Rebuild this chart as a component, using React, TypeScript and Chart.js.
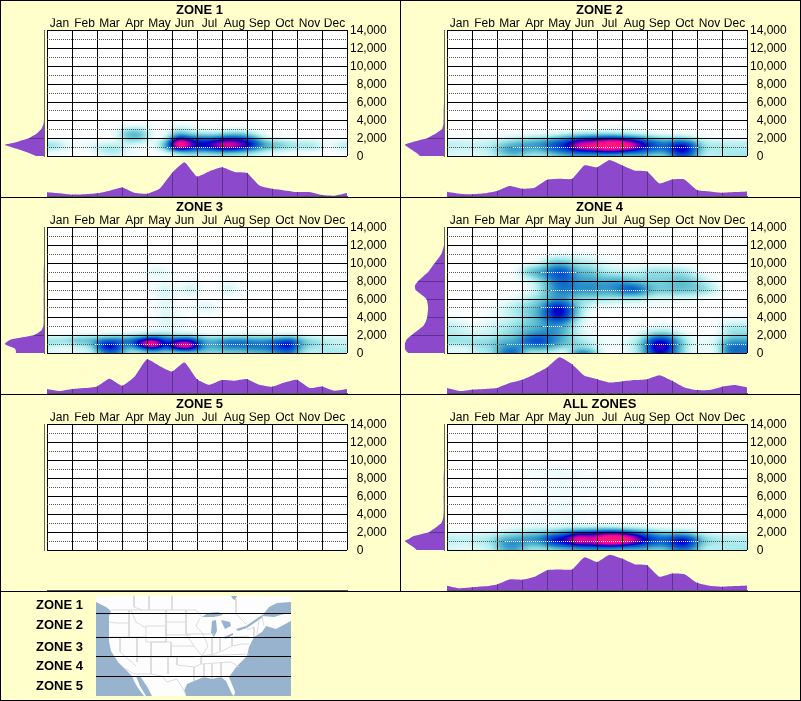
import React, { useEffect, useRef } from "react";
import { Chart, registerables } from "chart.js";

Chart.register(...registerables);
Chart.defaults.font.family = "'Liberation Sans', Arial, sans-serif";
Chart.defaults.color = "#000";

const months = ["Jan", "Feb", "Mar", "Apr", "May", "Jun", "Jul", "Aug", "Sep", "Oct", "Nov", "Dec"];
const heatMonths = [0.25, 0.75, 1.25, 1.75, 2.25, 2.75, 3.25, 3.75, 4.25, 4.75, 5.25, 5.75, 6.25, 6.75, 7.25, 7.75, 8.25, 8.75, 9.25, 9.75, 10.25, 10.75, 11.25, 11.75];
const heatElev = [0, 500, 1000, 1500, 2000, 2500, 3000, 3500, 4000, 5000, 6000, 7000, 8000, 9000, 10000, 11000, 12000];
const profileMonths = [0, 0.5, 1, 1.5, 2, 2.5, 3, 3.5, 4, 4.5, 5, 5.5, 6, 6.5, 7, 7.5, 8, 8.5, 9, 9.5, 10, 10.5, 11, 11.5, 12];
const profileElev = [0, 250, 500, 750, 1000, 1250, 1500, 2000, 2500, 3000, 3500, 4000, 5000, 6000, 7000, 7500, 8000, 9000, 10000, 11000, 12000, 14000];
const elevLabels = [0, 2000, 4000, 6000, 8000, 10000, 12000, 14000];

// Heat grids: rows follow heatElev, columns follow heatMonths
const zone1Heat = [
  [2, 1, 0, 0, 4, 8, 3, 1, 0, 0, 6, 12, 8, 10, 12, 10, 8, 4, 3, 1, 1, 0, 0, 0],
  [6, 3, 1, 3, 13, 16, 6, 3, 1, 10, 34, 38, 34, 40, 42, 36, 25, 12, 8, 5, 4, 4, 0, 4],
  [18, 8, 3, 7, 14, 16, 6, 4, 3, 32, 100, 72, 64, 76, 86, 76, 58, 34, 26, 18, 16, 15, 2, 12],
  [16, 5, 2, 4, 6, 7, 13, 11, 4, 30, 100, 74, 64, 74, 84, 74, 60, 30, 24, 14, 14, 11, 2, 10],
  [0, 0, 0, 0, 1, 3, 26, 26, 2, 10, 66, 52, 46, 48, 56, 54, 40, 9, 4, 1, 1, 1, 0, 0],
  [0, 0, 0, 0, 0, 4, 32, 30, 3, 3, 32, 20, 16, 16, 24, 24, 14, 2, 1, 0, 0, 0, 0, 0],
  [0, 0, 0, 0, 0, 2, 14, 14, 2, 1, 14, 9, 3, 3, 5, 6, 2, 1, 0, 0, 0, 0, 0, 0],
  [0, 0, 0, 0, 0, 0, 2, 3, 1, 0, 3, 2, 0, 0, 0, 0, 0, 0, 0, 0, 0, 0, 0, 0],
];
const zone2Heat = [
  [6, 5, 6, 8, 18, 25, 15, 14, 20, 28, 30, 30, 28, 24, 24, 28, 20, 22, 50, 45, 12, 12, 15, 16],
  [9, 8, 10, 14, 32, 40, 28, 28, 42, 50, 62, 62, 70, 72, 60, 54, 42, 42, 68, 58, 18, 15, 16, 16],
  [11, 10, 12, 14, 30, 38, 38, 40, 55, 64, 86, 92, 100, 100, 94, 72, 56, 50, 70, 62, 20, 16, 14, 12],
  [12, 10, 10, 12, 20, 28, 34, 38, 50, 60, 80, 82, 92, 96, 86, 68, 52, 42, 56, 46, 16, 14, 12, 14],
  [3, 3, 4, 5, 8, 12, 16, 20, 28, 38, 50, 55, 60, 60, 52, 42, 28, 20, 24, 16, 4, 2, 2, 2],
  [0, 0, 0, 0, 1, 2, 3, 4, 5, 10, 14, 16, 18, 16, 12, 8, 5, 3, 4, 2, 0, 0, 0, 0],
  [0, 0, 0, 0, 0, 0, 0, 1, 1, 1, 3, 3, 3, 4, 6, 4, 1, 0, 0, 0, 0, 0, 0, 0],
  [0, 0, 0, 0, 0, 0, 0, 0, 0, 0, 0, 2, 0, 0, 0, 3, 0, 0, 0, 0, 0, 0, 0, 0],
  [0, 0, 0, 0, 0, 0, 0, 0, 0, 0, 0, 2, 0, 0, 0, 3, 0, 0, 0, 0, 0, 0, 0, 0],
];
const zone3Heat = [
  [8, 5, 8, 10, 35, 45, 15, 14, 18, 15, 10, 14, 20, 20, 22, 22, 25, 28, 38, 45, 14, 12, 16, 16],
  [6, 4, 10, 14, 62, 62, 28, 45, 72, 45, 76, 76, 38, 32, 40, 40, 45, 45, 55, 62, 24, 16, 15, 14],
  [16, 12, 20, 25, 62, 62, 42, 80, 100, 60, 88, 88, 40, 38, 50, 50, 48, 48, 58, 68, 28, 20, 12, 8],
  [18, 20, 30, 30, 44, 46, 42, 60, 76, 50, 58, 58, 34, 30, 40, 40, 36, 36, 44, 50, 26, 18, 14, 12],
  [2, 3, 6, 8, 10, 12, 14, 20, 26, 26, 16, 18, 8, 6, 8, 9, 10, 9, 8, 12, 5, 2, 1, 1],
  [0, 0, 0, 0, 0, 1, 1, 3, 5, 5, 5, 2, 1, 1, 1, 1, 2, 2, 1, 1, 0, 0, 0, 0],
  [0, 0, 0, 0, 0, 0, 0, 0, 1, 6, 4, 1, 0, 0, 0, 0, 0, 0, 0, 0, 0, 0, 0, 0],
  [0, 0, 0, 0, 0, 0, 0, 0, 1, 8, 4, 0, 0, 0, 0, 0, 0, 0, 0, 0, 0, 0, 0, 0],
  [0, 0, 0, 0, 0, 0, 0, 0, 1, 8, 4, 0, 0, 0, 0, 0, 0, 0, 0, 0, 0, 0, 0, 0],
  [0, 0, 0, 0, 0, 0, 0, 0, 0, 8, 1, 2, 8, 4, 0, 0, 0, 0, 0, 0, 0, 0, 0, 0],
  [0, 0, 0, 0, 0, 0, 0, 0, 1, 7, 1, 1, 1, 0, 0, 0, 0, 0, 0, 0, 0, 0, 0, 0],
  [0, 0, 0, 0, 0, 0, 0, 0, 3, 10, 2, 12, 1, 0, 10, 2, 0, 0, 0, 0, 0, 0, 0, 0],
  [0, 0, 0, 0, 0, 0, 0, 0, 1, 4, 1, 3, 0, 0, 4, 0, 0, 0, 0, 0, 0, 0, 0, 0],
  [0, 0, 0, 0, 0, 0, 0, 0, 8, 5, 0, 0, 0, 0, 0, 0, 0, 0, 0, 0, 0, 0, 0, 0],
];
const zone4Heat = [
  [8, 6, 14, 15, 46, 50, 14, 14, 8, 4, 50, 40, 4, 2, 6, 22, 60, 62, 34, 6, 6, 5, 45, 45],
  [5, 6, 16, 20, 40, 45, 32, 34, 26, 14, 24, 18, 3, 1, 6, 24, 66, 70, 36, 6, 6, 6, 48, 50],
  [15, 16, 20, 22, 35, 38, 48, 55, 40, 28, 22, 14, 4, 3, 8, 24, 68, 70, 38, 8, 6, 8, 42, 44],
  [20, 18, 18, 20, 30, 34, 52, 56, 44, 30, 18, 10, 5, 4, 7, 20, 56, 58, 32, 8, 5, 8, 32, 34],
  [14, 12, 10, 12, 20, 26, 40, 46, 42, 30, 12, 5, 2, 2, 3, 10, 30, 34, 16, 4, 2, 3, 18, 22],
  [13, 8, 7, 10, 16, 22, 32, 38, 42, 30, 10, 3, 1, 1, 1, 4, 12, 14, 5, 1, 1, 1, 16, 18],
  [12, 6, 5, 8, 14, 20, 28, 34, 42, 32, 10, 2, 0, 0, 0, 1, 4, 6, 2, 0, 0, 1, 12, 14],
  [7, 3, 2, 5, 10, 16, 24, 34, 50, 44, 14, 2, 0, 0, 0, 0, 1, 1, 0, 0, 0, 0, 6, 7],
  [3, 1, 1, 4, 8, 14, 24, 38, 62, 60, 20, 2, 0, 0, 0, 0, 0, 0, 0, 0, 0, 0, 2, 3],
  [0, 0, 0, 2, 8, 16, 24, 36, 66, 62, 24, 6, 2, 2, 2, 2, 0, 0, 0, 0, 0, 0, 0, 0],
  [0, 0, 0, 0, 2, 6, 14, 24, 38, 38, 22, 20, 16, 15, 14, 14, 8, 8, 6, 6, 0, 0, 0, 0],
  [0, 0, 0, 0, 0, 0, 4, 18, 40, 48, 40, 42, 38, 42, 54, 48, 28, 26, 28, 26, 22, 10, 0, 0],
  [0, 0, 0, 0, 0, 2, 6, 22, 44, 50, 38, 38, 34, 36, 32, 26, 24, 24, 30, 26, 14, 4, 0, 0],
  [0, 0, 0, 0, 0, 2, 26, 36, 52, 54, 30, 28, 16, 12, 12, 12, 20, 18, 18, 12, 2, 0, 0, 0],
  [0, 0, 0, 0, 0, 0, 4, 10, 30, 28, 16, 14, 6, 4, 2, 2, 2, 2, 1, 0, 0, 0, 0, 0],
  [0, 0, 0, 0, 0, 0, 0, 0, 3, 4, 3, 2, 1, 0, 0, 0, 0, 0, 0, 0, 0, 0, 0, 0],
];
const zone5Heat: number[][] = [];
const allHeat = [
  [8, 5, 8, 10, 30, 35, 16, 14, 18, 24, 28, 30, 28, 24, 24, 28, 20, 22, 40, 38, 14, 12, 15, 16],
  [8, 6, 10, 14, 38, 42, 28, 30, 48, 54, 64, 66, 72, 74, 62, 56, 44, 44, 64, 56, 20, 15, 16, 16],
  [12, 10, 14, 18, 36, 40, 40, 44, 66, 70, 92, 84, 98, 100, 94, 72, 58, 52, 68, 62, 26, 18, 14, 12],
  [12, 10, 12, 14, 26, 30, 36, 40, 58, 64, 86, 78, 92, 96, 86, 68, 52, 44, 54, 46, 20, 15, 12, 14],
  [3, 3, 4, 6, 10, 14, 18, 22, 30, 40, 52, 55, 60, 60, 52, 42, 28, 20, 22, 16, 5, 2, 2, 2],
  [0, 0, 1, 1, 3, 5, 7, 8, 7, 12, 14, 14, 16, 14, 12, 8, 5, 3, 3, 2, 1, 0, 0, 0],
  [0, 0, 0, 0, 1, 2, 3, 4, 3, 4, 3, 1, 1, 1, 2, 2, 1, 1, 1, 0, 0, 0, 0, 0],
  [0, 0, 0, 0, 0, 1, 2, 3, 2, 4, 3, 1, 1, 0, 1, 1, 0, 0, 0, 0, 0, 0, 0, 0],
  [0, 0, 0, 0, 0, 1, 2, 3, 2, 4, 2, 1, 0, 0, 0, 0, 0, 0, 0, 0, 0, 0, 0, 0],
  [0, 0, 0, 0, 0, 1, 2, 2, 3, 4, 3, 1, 2, 1, 0, 0, 0, 0, 0, 0, 0, 0, 0, 0],
  [0, 0, 0, 0, 0, 0, 0, 1, 3, 2, 2, 1, 0, 0, 0, 0, 0, 0, 0, 0, 0, 0, 0, 0],
  [0, 0, 0, 0, 0, 0, 0, 2, 3, 4, 3, 3, 2, 2, 3, 2, 1, 1, 0, 0, 0, 0, 0, 0],
  [0, 0, 0, 0, 0, 0, 1, 2, 3, 4, 3, 2, 2, 1, 1, 1, 0, 0, 0, 0, 0, 0, 0, 0],
  [0, 0, 0, 0, 0, 0, 2, 3, 3, 3, 2, 1, 0, 0, 0, 0, 0, 0, 0, 0, 0, 0, 0, 0],
];

// Elevation profiles (left of each plot), following profileElev
const zone1Left = [25, 40, 58, 78, 100, 119, 88, 45, 22, 8, 2, 0, 0, 0, 0, 0, 0, 0, 0, 0, 0, 0];
const zone2Left = [73, 80, 90, 100, 110, 119, 100, 50, 25, 6, 2, 1, 1, 0, 0, 0, 0, 0, 0, 0, 0, 0];
const zone3Left = [85, 85, 88, 105, 119, 112, 100, 30, 8, 2, 1, 1, 1, 1, 1, 1, 1, 1, 0, 0, 0, 0];
const zone4Left = [108, 115, 119, 119, 119, 116, 113, 98, 80, 63, 55, 51, 48, 53, 86, 88, 78, 48, 28, 8, 0, 0];
const zone5Left: number[] = [];
const allLeft = [83, 90, 100, 110, 119, 105, 95, 45, 25, 8, 3, 1, 1, 1, 1, 1, 1, 0, 0, 0, 0, 0];

// Seasonal profiles (below each plot), following profileMonths
const zone1Bottom = [11, 8, 4, 5, 8, 16, 26, 10, 7, 22, 70, 102, 59, 75, 87, 73, 70, 32, 22, 17, 12, 12, 3, 1, 9];
const zone2Bottom = [13, 7, 5, 8, 15, 30, 22, 25, 49, 52, 52, 93, 87, 109, 93, 77, 74, 38, 50, 50, 18, 14, 10, 12, 14];
const zone3Bottom = [12, 6, 12, 15, 20, 43, 22, 49, 102, 82, 65, 92, 42, 25, 39, 37, 42, 25, 19, 32, 40, 15, 20, 7, 12];
const zone4Bottom = [15, 6, 10, 12, 15, 30, 40, 57, 77, 108, 87, 52, 42, 32, 35, 39, 42, 54, 37, 17, 9, 9, 19, 24, 17];
const zone5Bottom: number[] = [];
const allBottom = [13, 5, 8, 11, 17, 32, 31, 40, 60, 62, 62, 99, 85, 107, 95, 78, 75, 40, 50, 48, 22, 13, 10, 12, 14];

const zoneTitles = ["ZONE 1", "ZONE 2", "ZONE 3", "ZONE 4", "ZONE 5", "ALL ZONES"];
const zoneHeats = [zone1Heat, zone2Heat, zone3Heat, zone4Heat, zone5Heat, allHeat];
const zoneLefts = [zone1Left, zone2Left, zone3Left, zone4Left, zone5Left, allLeft];
const zoneBottoms = [zone1Bottom, zone2Bottom, zone3Bottom, zone4Bottom, zone5Bottom, allBottom];
const legendNames = ["ZONE 1", "ZONE 2", "ZONE 3", "ZONE 4", "ZONE 5"];

// Reference map, in map units (0-195 across, 0-100 down)
const pacific = [[0, 6], [10, 11], [15, 15], [13, 20], [13, 30], [13, 45], [15, 55], [22, 66], [28, 72], [36, 80], [38, 85], [42, 92], [48, 100], [0, 100]];
const gulfCalifornia = [[40, 80], [44, 80], [52, 92], [56, 100], [50, 100], [44, 90]];
const atlanticGulf = [[90, 100], [88, 95], [91, 88], [98, 85], [108, 81], [116, 83], [125, 81], [130, 85], [136, 98], [138, 100], [139, 96], [133, 81], [141, 70], [151, 60], [153, 51], [158, 41], [166, 36], [170, 30], [180, 33], [193, 26], [195, 25], [195, 100]];
const stLawrence = [[166, 20], [173, 11], [181, 7], [195, 6], [195, 18], [188, 18], [178, 21]];
const superior = [[106, 21], [112, 17], [122, 16], [127, 19], [118, 21]];
const michigan = [[116, 25], [120, 24], [121, 35], [118, 41], [115, 37]];
const huron = [[125, 24], [134, 26], [135, 30], [129, 33], [127, 29]];
const erie = [[128, 41], [137, 37], [137, 39], [129, 43]];
const ontario = [[140, 33], [150, 30], [151, 32], [142, 35]];
const riverMouth = [[150, 30], [166, 19], [167, 21], [151, 32]];
const hudson = [[135, 0], [141, 0], [139, 4], [137, 3]];
const borderLines = [
  [[38, 0], [38, 11], [46, 14]], [[53, 0], [53, 14]], [[76, 0], [76, 14]], [[15, 14], [100, 14], [106, 21]],
  [[13, 26], [20, 27], [33, 27]], [[33, 14], [33, 41]], [[35, 14], [40, 26], [48, 31], [50, 31]],
  [[50, 30], [70, 30], [70, 46], [50, 46], [50, 30]], [[14, 41], [41, 41], [50, 41]], [[24, 41], [24, 56], [40, 70]],
  [[41, 41], [41, 66]], [[55, 46], [55, 78]], [[55, 46], [75, 46], [75, 61]], [[75, 50], [98, 50]], [[70, 39], [95, 39]],
  [[70, 26], [90, 26]], [[70, 14], [70, 39]], [[90, 14], [90, 38], [98, 50], [106, 60], [105, 68]], [[41, 61], [98, 61]],
  [[72, 61], [72, 78]], [[81, 61], [81, 69], [98, 71], [105, 68]], [[98, 71], [98, 85]],
  [[28, 72], [38, 78], [55, 78], [66, 80], [71, 86], [81, 83], [90, 98]],
  [[90, 38], [107, 38], [118, 38]], [[104, 22], [100, 30], [107, 38], [112, 50], [106, 60]],
  [[116, 41], [116, 60]], [[124, 41], [124, 55]], [[106, 60], [118, 58], [126, 55], [136, 50]],
  [[105, 68], [135, 66]], [[108, 68], [108, 82]], [[116, 68], [116, 83]], [[125, 66], [125, 80]], [[121, 81], [133, 80]],
  [[135, 66], [143, 71]], [[106, 60], [153, 58]], [[136, 50], [146, 48], [153, 48]], [[136, 41], [153, 40]], [[136, 41], [136, 50]],
  [[151, 34], [158, 31], [158, 41]], [[163, 23], [161, 38]], [[166, 20], [168, 30]], [[140, 3], [140, 18], [150, 28]],
];
const zoneDividers = [17.5, 41.5, 60.5, 80.5];

const PURPLE = "#8D49CB";
const DARK_PURPLE = "#5C338C";
const colorStops: [number, number, number, number][] = [
  [0, 255, 255, 255], [5, 232, 250, 250], [15, 172, 236, 238], [30, 92, 190, 208], [45, 24, 124, 200],
  [58, 0, 62, 208], [66, 0, 0, 200], [74, 90, 0, 185], [83, 215, 0, 160], [92, 255, 20, 130], [100, 255, 20, 130],
];

function colorAt(v: number) {
  for (let i = 1; i < colorStops.length; i++) {
    if (v <= colorStops[i][0]) {
      const a = colorStops[i - 1];
      const b = colorStops[i];
      const t = (v - a[0]) / (b[0] - a[0]);
      return [a[1] + (b[1] - a[1]) * t, a[2] + (b[2] - a[2]) * t, a[3] + (b[3] - a[3]) * t];
    }
  }
  return colorStops[colorStops.length - 1].slice(1);
}

function catmull(p0: number, p1: number, p2: number, p3: number, t: number) {
  return 0.5 * (2 * p1 + (p2 - p0) * t + (2 * p0 - 5 * p1 + 4 * p2 - p3) * t * t + (3 * p1 - p0 - 3 * p2 + p3) * t * t * t);
}

function nodeParam(p: number, nodes: number[]) {
  const n = nodes.length;
  if (p <= nodes[0]) return 0;
  if (p >= nodes[n - 1]) return n - 1;
  for (let i = 1; i < n; i++) {
    if (p <= nodes[i]) return i - 1 + (p - nodes[i - 1]) / (nodes[i] - nodes[i - 1]);
  }
  return n - 1;
}

function heatValue(grid: number[][], row: number, col: number) {
  const r = grid[row];
  if (!r) return 0;
  return r[Math.max(0, Math.min(heatMonths.length - 1, col))];
}

function sampleHeat(grid: number[][], w: number, u: number) {
  const r1 = Math.min(Math.floor(w), heatElev.length - 2);
  const c1 = Math.min(Math.floor(u), heatMonths.length - 2);
  const ty = w - r1;
  const tx = u - c1;
  const rowVals = [-1, 0, 1, 2].map((dr) => {
    const row = Math.max(0, r1 + dr);
    return catmull(heatValue(grid, row, c1 - 1), heatValue(grid, row, c1), heatValue(grid, row, c1 + 1), heatValue(grid, row, c1 + 2), tx);
  });
  return Math.max(0, Math.min(100, catmull(rowVals[0], rowVals[1], rowVals[2], rowVals[3], ty)));
}

function blurField(f: Float32Array, w: number, h: number, rx: number, ry: number) {
  const pass = (src: Float32Array, horizontal: boolean, r: number) => {
    const out = new Float32Array(src.length);
    for (let y = 0; y < h; y++) {
      for (let x = 0; x < w; x++) {
        let s = 0;
        for (let d = -r; d <= r; d++) {
          const xx = horizontal ? Math.max(0, Math.min(w - 1, x + d)) : x;
          const yy = horizontal ? y : Math.max(0, Math.min(h - 1, y + d));
          s += src[yy * w + xx];
        }
        out[y * w + x] = s / (2 * r + 1);
      }
    }
    return out;
  };
  let r = f;
  for (let i = 0; i < 2; i++) {
    r = pass(r, true, rx);
    r = pass(r, false, ry);
  }
  return r;
}

function heatPlugin(grid: number[][]) {
  let field: Float32Array = new Float32Array(0);
  let fw = 0;
  return {
    id: "heatField",
    beforeDraw(chart: any) {
      const { ctx, chartArea: a, scales } = chart;
      if (chart.titleBlock) {
        chart.titleBlock.left = 0;
        chart.titleBlock.right = 399;
      }
      const w = Math.round(a.right - a.left);
      const h = Math.round(a.bottom - a.top);
      fw = w;
      const colPx = heatMonths.map((m) => scales.x.getPixelForValue(m));
      const rowPx = heatElev.map((e) => -scales.y.getPixelForValue(e));
      const raw = new Float32Array(w * h);
      for (let yy = 0; yy < h; yy++) {
        const wp = nodeParam(-(a.top + yy + 0.5), rowPx);
        for (let xx = 0; xx < w; xx++) raw[yy * w + xx] = sampleHeat(grid, wp, nodeParam(a.left + xx + 0.5, colPx));
      }
      field = blurField(raw, w, h, 5, 2);
      const off = document.createElement("canvas");
      off.width = w;
      off.height = h;
      const oc = off.getContext("2d")!;
      const img = oc.createImageData(w, h);
      for (let k = 0; k < w * h; k++) {
        const c = colorAt(field[k]);
        img.data[k * 4] = c[0];
        img.data[k * 4 + 1] = c[1];
        img.data[k * 4 + 2] = c[2];
        img.data[k * 4 + 3] = 255;
      }
      oc.putImageData(img, 0, 0);
      ctx.drawImage(off, a.left, a.top);
    },
    afterDraw(chart: any) {
      const { ctx, chartArea: a, scales } = chart;
      ctx.save();
      ctx.fillStyle = "#fff";
      for (let e = 1000; e < 14000; e += 2000) {
        const py = Math.round(scales.y.getPixelForValue(e) - 0.5);
        const row = py - Math.round(a.top);
        for (let xx = 0; xx < fw; xx += 2) {
          if (field[row * fw + xx] > 36) ctx.fillRect(Math.round(a.left) + xx, py, 1, 1);
        }
      }
      ctx.restore();
    },
  };
}

function dropLinePlugin(kind: "left" | "bottom", values: number[]) {
  return {
    id: "dropLines",
    afterDatasetsDraw(chart: any) {
      if (!values.length) return;
      const { ctx, scales } = chart;
      ctx.save();
      ctx.strokeStyle = DARK_PURPLE;
      ctx.lineWidth = 1;
      ctx.beginPath();
      if (kind === "bottom") {
        months.forEach((_, i) => {
          if (i === 0) return;
          const k = profileMonths.indexOf(i);
          const x = Math.round(scales.x.getPixelForValue(i) - 0.5) + 0.5;
          ctx.moveTo(x, scales.y.getPixelForValue(values[k]));
          ctx.lineTo(x, scales.y.getPixelForValue(0));
        });
      } else {
        elevLabels.forEach((e) => {
          if (e === 0) return;
          const k = profileElev.indexOf(e);
          if (k < 0 || values[k] <= 0) return;
          const y = Math.round(scales.y.getPixelForValue(e) - 0.5) + 0.5;
          ctx.moveTo(scales.x.getPixelForValue(values[k]), y);
          ctx.lineTo(scales.x.getPixelForValue(0), y);
        });
      }
      ctx.stroke();
      ctx.restore();
    },
  };
}

const polygonPlugin = {
  id: "polygons",
  beforeDatasetsDraw(chart: any) {
    const { ctx, scales } = chart;
    chart.data.datasets.forEach((ds: any) => {
      if (!ds.polygon) return;
      ctx.beginPath();
      ds.data.forEach((p: any, i: number) => {
        const x = scales.x.getPixelForValue(p.x);
        const y = scales.y.getPixelForValue(p.y);
        if (i === 0) ctx.moveTo(x, y);
        else ctx.lineTo(x, y);
      });
      ctx.closePath();
      ctx.fillStyle = ds.backgroundColor;
      ctx.fill();
    });
  },
};

function mainConfig(i: number) {
  const grid = zoneHeats[i];
  const nodes: any[] = [];
  heatElev.forEach((e, r) => heatMonths.forEach((m, c) => nodes.push({ x: m, y: e, v: grid[r] ? grid[r][c] : 0 })));
  return {
    type: "scatter",
    data: { datasets: [{ label: zoneTitles[i], data: nodes, pointRadius: 0, xAxisID: "x", yAxisID: "y" }] },
    plugins: [heatPlugin(grid)],
    options: {
      animation: false,
      responsive: false,
      devicePixelRatio: 1,
      layout: { padding: { left: 47, right: 0, top: 0, bottom: 14 } },
      plugins: {
        legend: { display: false },
        tooltip: { enabled: false },
        title: { display: true, text: zoneTitles[i], color: "#000", font: { size: 13, weight: "bold" }, padding: { top: 3, bottom: 0 } },
      },
      scales: {
        x: {
          type: "linear", min: 0, max: 12, position: "top",
          ticks: { display: false, stepSize: 1 },
          grid: { color: "#000", lineWidth: 1, drawTicks: false },
          border: { display: false },
        },
        months: {
          type: "category", axis: "x", labels: months, position: "top", offset: true,
          ticks: { autoSkip: false, maxRotation: 0, minRotation: 0, padding: -1, font: { size: 12 }, color: "#000" },
          grid: { display: false, drawTicks: false },
          border: { display: false },
          afterFit(s: any) { s.height = 11.4; },
        },
        y: {
          type: "linear", min: 0, max: 14000, position: "right",
          afterFit(s: any) { s.width = 53; },
          ticks: {
            stepSize: 1000, autoSkip: false, padding: 3, font: { size: 12 }, color: "#000", labelOffset: 1,
            callback: (v: number) => {
              if (v % 2000 !== 0) return "";
              const t = v.toLocaleString("en-US");
              return v < 10000 ? "  " + t : t;
            },
          },
          grid: {
            drawTicks: false, lineWidth: 1,
            color: (c: any) => (c.tick && c.tick.value % 2000 !== 0 ? "#555" : "#000"),
          },
          border: {
            display: false,
            dash: (c: any) => (c.tick && c.tick.value % 2000 !== 0 ? [1, 1] : []),
          },
        },
      },
    },
  };
}

function leftConfig(i: number) {
  const vals = zoneLefts[i];
  return {
    type: "line",
    data: {
      datasets: [{
        label: zoneTitles[i] + " elevation",
        data: vals.map((v, k) => ({ x: v, y: profileElev[k] })),
        backgroundColor: PURPLE, borderWidth: 0, pointRadius: 0, fill: "origin", tension: 0.15,
      }],
    },
    plugins: [dropLinePlugin("left", vals)],
    options: {
      indexAxis: "y",
      animation: false,
      responsive: false,
      devicePixelRatio: 1,
      layout: { padding: { left: 4.5, right: 2, top: 30, bottom: 4 } },
      plugins: { legend: { display: false }, tooltip: { enabled: false }, title: { display: false } },
      scales: {
        x: { type: "linear", min: 0, max: 119.5, reverse: true, display: false },
        y: {
          type: "linear", min: 0, max: 14000, position: "right",
          ticks: { display: false },
          grid: { display: false, drawTicks: false },
          border: { display: true, color: "#666", width: 1 },
        },
      },
    },
  };
}

function bottomConfig(i: number) {
  const vals = zoneBottoms[i];
  return {
    type: "line",
    data: {
      datasets: [{
        label: zoneTitles[i] + " season",
        data: vals.map((v, k) => ({ x: profileMonths[k], y: v })),
        backgroundColor: PURPLE, borderWidth: 0, pointRadius: 0, fill: "origin", tension: 0.15,
      }],
    },
    plugins: [dropLinePlugin("bottom", vals)],
    options: {
      animation: false,
      responsive: false,
      devicePixelRatio: 1,
      layout: { padding: { left: 47, right: 3, top: 2, bottom: 2 } },
      plugins: { legend: { display: false }, tooltip: { enabled: false }, title: { display: false } },
      scales: {
        x: {
          type: "linear", min: 0, max: 12, position: "bottom",
          ticks: { display: false },
          grid: { display: false, drawTicks: false },
          border: { display: true, color: "#555", width: 1 },
        },
        y: { type: "linear", min: 0, max: 109, display: false },
      },
    },
  };
}

function mapConfig() {
  const pts = (a: number[][]) => a.map((p) => ({ x: p[0], y: p[1] }));
  const water = [pacific, gulfCalifornia, atlanticGulf, stLawrence, superior, michigan, huron, erie, ontario, riverMouth, hudson];
  const datasets: any[] = [];
  zoneDividers.forEach((v) => datasets.push({
    data: [{ x: 0, y: v }, { x: 195, y: v }], borderColor: "#000", borderWidth: 1, pointRadius: 0,
  }));
  borderLines.forEach((l) => datasets.push({
    data: pts(l), borderColor: "#D8D8D8", borderWidth: 0.9, pointRadius: 0,
  }));
  water.forEach((w) => datasets.push({
    data: pts(w), polygon: true, backgroundColor: "#98B3CE", borderWidth: 0, pointRadius: 0,
  }));
  return {
    type: "line",
    data: { datasets },
    plugins: [polygonPlugin],
    options: {
      animation: false,
      responsive: false,
      devicePixelRatio: 1,
      plugins: { legend: { display: false }, tooltip: { enabled: false } },
      scales: {
        x: { type: "linear", min: 0, max: 195, display: false },
        y: { type: "linear", min: 0, max: 100, reverse: true, display: false },
      },
    },
  };
}

function ChartCanvas({ config, left, top, width, height, background }: any) {
  const ref = useRef<HTMLCanvasElement>(null);
  useEffect(() => {
    const chart = new Chart(ref.current!, config());
    return () => chart.destroy();
  }, []);
  return (
    <canvas
      ref={ref}
      width={width}
      height={height}
      style={{ position: "absolute", left, top, width, height, background }}
    />
  );
}

const rule = (left: number, top: number, width: number, height: number) => (
  <div key={`${left}-${top}-${width}`} style={{ position: "absolute", left, top, width, height, background: "#000" }} />
);

export default function App() {
  const legendY = [605, 625, 647, 666, 686];
  return (
    <div style={{ position: "fixed", left: 0, top: 0, width: 801, height: 701, background: "#FFFFCC", overflow: "hidden", fontFamily: "'Liberation Sans', Arial, sans-serif" }}>
      {zoneTitles.map((_, i) => {
        const ox = i % 2 === 0 ? 0 : 400;
        const oy = Math.floor(i / 2) * 197;
        return (
          <React.Fragment key={i}>
            <ChartCanvas config={() => leftConfig(i)} left={ox} top={oy} width={46} height={160} />
            <ChartCanvas config={() => bottomConfig(i)} left={ox} top={oy + 158} width={350} height={40} />
            <ChartCanvas config={() => mainConfig(i)} left={ox} top={oy} width={400} height={170} />
          </React.Fragment>
        );
      })}
      {rule(0, 0, 801, 1)}
      {rule(0, 197, 801, 1)}
      {rule(0, 394, 801, 1)}
      {rule(0, 591, 801, 1)}
      {rule(0, 700, 801, 1)}
      {rule(0, 0, 1, 701)}
      {rule(800, 0, 1, 701)}
      {rule(400, 0, 1, 591)}
      {legendNames.map((n, i) => (
        <div key={n} style={{ position: "absolute", left: 36, top: legendY[i] - 8, height: 16, lineHeight: "16px", fontSize: 13, fontWeight: "bold", color: "#000" }}>{n}</div>
      ))}
      <ChartCanvas config={mapConfig} left={96} top={596} width={195} height={100} background="#FDFDFD" />
    </div>
  );
}
